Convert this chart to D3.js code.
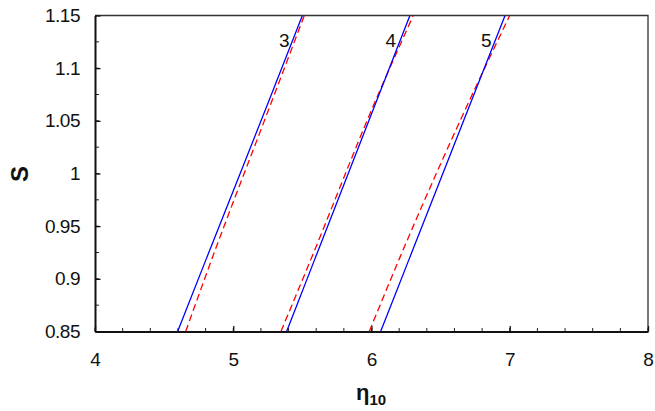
<!DOCTYPE html>
<html>
<head>
<meta charset="utf-8">
<script src="https://cdn.jsdelivr.net/npm/d3@7"></script>
<style>
  body { margin: 0; background: #fff; }
  text { font-family: "Liberation Sans", Arial, sans-serif; }
</style>
</head>
<body>
<svg id="chart" width="655" height="411"></svg>
<script>
// S values sampled along each curve
var sValues = [0.85, 0.918, 1.07, 1.15]

// blue (solid) curves, eta10 at each S
var blue3 = [4.598, 4.802, 5.261, 5.500]
var blue4 = [5.386, 5.588, 6.040, 6.278]
var blue5 = [6.066, 6.270, 6.726, 6.966]

// red (dashed) curves
var red3 = [4.656, 4.843, 5.283, 5.514]
var red4 = [5.345, 5.560, 6.032, 6.302]
var red5 = [5.984, 6.198, 6.711, 7.000]

var curveLabels = ["3", "4", "5"]
var labelEta = [5.37, 6.14, 6.83]

var xTicks = [4, 5, 6, 7, 8]
var yTicks = [0.85, 0.9, 0.95, 1, 1.05, 1.1, 1.15]

var margin = {top: 15.5, right: 7, bottom: 79.5, left: 95}
var width = 655, height = 411

var svg = d3.select("#chart")

var x = d3.scaleLinear().domain([4, 8]).range([margin.left, width - margin.right])
var y = d3.scaleLinear().domain([0.85, 1.15]).range([height - margin.bottom, margin.top])

svg.append("defs").append("clipPath").attr("id", "plot-clip")
    .append("rect")
    .attr("x", x(4)).attr("y", y(1.15))
    .attr("width", x(8) - x(4)).attr("height", y(0.85) - y(1.15))

// frame top/right
svg.append("path")
    .attr("d", "M" + x(4) + "," + y(1.15) + "H" + x(8) + "V" + y(0.85))
    .attr("fill", "none").attr("stroke", "#333").attr("stroke-width", 1.3)

// minor ticks
var xMinor = d3.range(4, 8.001, 0.2)
var yMinor = d3.range(0.85, 1.1501, 0.025)

var g = svg.append("g")
g.selectAll(".xminor").data(xMinor).enter().append("line")
    .attr("x1", d => x(d)).attr("x2", d => x(d))
    .attr("y1", y(0.85)).attr("y2", y(0.85) - 3.5)
    .attr("stroke", "#222").attr("stroke-width", 1)
g.selectAll(".yminor").data(yMinor).enter().append("line")
    .attr("x1", x(4)).attr("x2", x(4) + 4)
    .attr("y1", d => y(d)).attr("y2", d => y(d))
    .attr("stroke", "#222").attr("stroke-width", 1)

// x axis
var xAxis = d3.axisBottom(x).tickValues(xTicks).tickSizeInner(-5.5).tickSizeOuter(0)
    .tickPadding(21).tickFormat(d3.format("d"))
var gx = svg.append("g")
    .attr("transform", "translate(0," + y(0.85) + ")")
    .call(xAxis)
gx.attr("font-size", 19).attr("font-family", "Liberation Sans, Arial, sans-serif")
gx.select(".domain").attr("stroke", "#111").attr("stroke-width", 2)
gx.selectAll(".tick line").attr("stroke", "#111").attr("stroke-width", 1.3)
gx.selectAll(".tick text").attr("fill", "#111")

// y axis
var yAxis = d3.axisLeft(y).tickValues(yTicks).tickSizeInner(-5.5).tickSizeOuter(0)
    .tickPadding(15).tickFormat(d => d3.format("")(+d.toFixed(2)))
var gy = svg.append("g")
    .attr("transform", "translate(" + x(4) + ",0)")
    .call(yAxis)
gy.attr("font-size", 19).attr("font-family", "Liberation Sans, Arial, sans-serif")
gy.select(".domain").attr("stroke", "#111").attr("stroke-width", 2)
gy.selectAll(".tick line").attr("stroke", "#111").attr("stroke-width", 1.3)
gy.selectAll(".tick text").attr("fill", "#111").attr("letter-spacing", "-0.5px")

// curves
var line = d3.line()
    .x(d => x(d[0]))
    .y(d => y(d[1]))
    .curve(d3.curveMonotoneY)

function drawCurve(etas, color, dash) {
    var pts = etas.map((e, i) => [e, sValues[i]])
    svg.append("path")
        .datum(pts)
        .attr("clip-path", "url(#plot-clip)")
        .attr("fill", "none")
        .attr("stroke", color)
        .attr("stroke-width", 1.3)
        .attr("stroke-dasharray", dash)
        .attr("d", line)
}

drawCurve(red3, "#ff0000", "7,4")
drawCurve(red4, "#ff0000", "7,4")
drawCurve(red5, "#ff0000", "7,4")
drawCurve(blue3, "#0000ff", null)
drawCurve(blue4, "#0000ff", null)
drawCurve(blue5, "#0000ff", null)

// curve labels
svg.selectAll(".clabel").data(curveLabels).enter().append("text")
    .attr("x", (d, i) => x(labelEta[i]))
    .attr("y", 47)
    .attr("text-anchor", "middle")
    .attr("font-size", 19)
    .attr("fill", "#111")
    .text(d => d)

// axis titles
svg.append("text")
    .attr("transform", "translate(28,174) rotate(-90)")
    .attr("text-anchor", "middle")
    .attr("font-size", 24)
    .attr("font-weight", "bold")
    .attr("fill", "#111")
    .text("S")

var xt = svg.append("text")
    .attr("x", 371).attr("y", 400)
    .attr("text-anchor", "middle")
    .attr("font-weight", "bold")
    .attr("fill", "#111")
xt.append("tspan").attr("font-size", 22).text("η")
xt.append("tspan").attr("font-size", 15).attr("dy", 5).text("10")
</script>
</body>
</html>
